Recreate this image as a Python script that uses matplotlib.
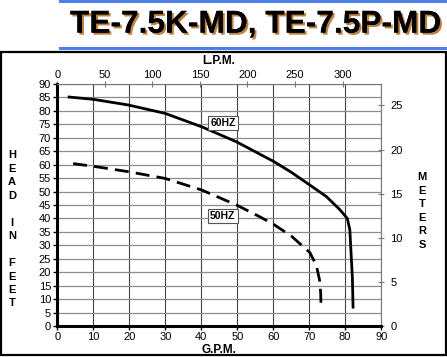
import matplotlib
matplotlib.use('Agg')
import matplotlib.pyplot as plt
import matplotlib.patheffects as pe
from matplotlib.patches import Rectangle
from matplotlib.lines import Line2D

plt.rcParams['font.family'] = ['Liberation Sans', 'DejaVu Sans']

# pump curves (GPM, head in feet)
gpm_60 = [2.9, 10, 19.7, 29.9, 40.1, 49.8, 57.7, 60, 65, 70.2, 74.8, 78.5, 80.6, 81.3, 81.6, 82.0, 82.2]
ft_60 = [85.2, 84.3, 82.2, 79.1, 74.1, 68.5, 62.9, 61.3, 57.2, 52.4, 48.1, 43.3, 40.0, 35.7, 28.0, 18.0, 6.5]
gpm_50 = [4.4, 10, 19.7, 29.9, 40.1, 49.8, 56.3, 60, 65, 70.2, 72.0, 72.9, 73.2, 73.3]
ft_50 = [60.4, 59.4, 57.4, 54.9, 50.6, 45.0, 40.6, 37.9, 33.5, 27.3, 22.5, 17.0, 12.0, 6.0]

title = 'TE-7.5K-MD, TE-7.5P-MD'
left_word = ['H', 'E', 'A', 'D', '', 'I', 'N', '', 'F', 'E', 'E', 'T']
right_word = ['M', 'E', 'T', 'E', 'R', 'S']

fig = plt.figure(figsize=(4.47, 3.57), dpi=100)

# header
fig.text(0.572, 0.931, title, ha='center', va='center', fontsize=22.8, fontweight='bold',
         color='black',
         path_effects=[pe.withSimplePatchShadow(offset=(1.5, -1.5), shadow_rgbFace='#b8742a', alpha=0.9),
                       pe.Normal()])
fig.add_artist(Line2D([0.134, 1.0], [0.997, 0.997], color='#4d7fe6', lw=2.2, transform=fig.transFigure))
fig.add_artist(Line2D([0.134, 1.0], [0.866, 0.866], color='#4d7fe6', lw=2.2, transform=fig.transFigure))
fig.add_artist(Rectangle((0.003, 0.006), 0.994, 0.848, fill=False, ec='black', lw=1.6,
                         transform=fig.transFigure))

ax = fig.add_axes([0.1282, 0.0868, 0.7245, 0.6779])
ax.plot(gpm_60, ft_60, color='black', lw=2, solid_capstyle='butt', zorder=3)
ax.plot(gpm_50, ft_50, color='black', lw=2, dashes=(5, 2.6), zorder=3)

ax.set_xlim(0, 90)
ax.set_ylim(0, 90)
ax.set_xticks(range(0, 91, 10))
ax.set_yticks(range(0, 91, 5))
ax.grid(True, axis='x', color='#444444', lw=0.8)
ax.grid(True, axis='y', color='#8c8c8c', lw=0.9)
ax.set_axisbelow(True)
ax.tick_params(axis='both', labelsize=8, length=3, width=1, pad=1.5, color='black')
for s in ['left', 'bottom']:
    ax.spines[s].set_linewidth(2.2)
for s in ['top', 'right']:
    ax.spines[s].set_linewidth(0.8)
    ax.spines[s].set_color('#777777')
ax.set_xlabel('G.P.M.', fontsize=8.5, fontweight='bold', labelpad=1)

ax.text(46, 75.6, '60HZ', fontsize=7.5, fontweight='bold', ha='center', va='center',
        bbox=dict(boxstyle='square,pad=0.2', fc='white', ec='#555555', lw=0.8), zorder=4)
ax.text(46, 41, '50HZ', fontsize=7.5, fontweight='bold', ha='center', va='center',
        bbox=dict(boxstyle='square,pad=0.2', fc='white', ec='#555555', lw=0.8), zorder=4)

top = ax.secondary_xaxis('top', functions=(lambda g: g * 3.785, lambda l: l / 3.785))
top.set_xticks(range(0, 301, 50))
top.tick_params(labelsize=8, direction='inout', length=5, width=0.8, color='#777777', pad=0.5)
top.spines['top'].set_visible(False)
fig.text(0.49, 1 - 61.5 / 357, 'L.P.M.', fontsize=8.5, fontweight='bold', ha='center', va='center')

right = ax.secondary_yaxis('right', functions=(lambda f: f * 0.3048, lambda m: m / 0.3048))
right.set_yticks(range(0, 26, 5))
right.tick_params(labelsize=8, direction='inout', length=5, width=0.8, color='#777777', pad=4)
right.spines['right'].set_visible(False)

for i, ch in enumerate(left_word):
    fig.text(0.027, 1 - (155 + i * 13.5) / 357, ch, fontsize=8, fontweight='bold', ha='center', va='center')
for i, ch in enumerate(right_word):
    fig.text(0.944, 1 - (177 + i * 13.6) / 357, ch, fontsize=8, fontweight='bold', ha='center', va='center')

fig.savefig('out.png', dpi=100)
